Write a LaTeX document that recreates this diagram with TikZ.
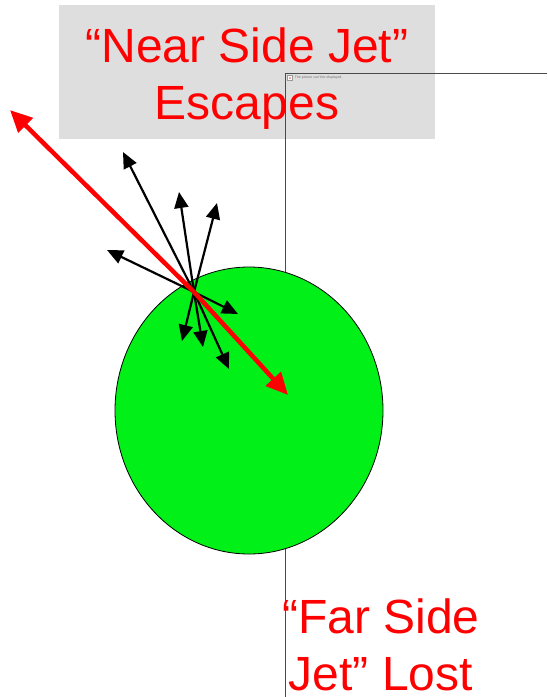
\documentclass[tikz,border=0pt]{standalone}
\usepackage{fontspec}
\setmainfont{Liberation Sans}
\usetikzlibrary{
  arrows.meta,
  shapes.geometric,
  positioning
}
\definecolor{jetRed}{HTML}{FF0000}
\definecolor{jetGreen}{HTML}{00F018}
\definecolor{jetBox}{HTML}{DEDEDE}
\definecolor{jetFrame}{HTML}{4A4A4A}
\tikzset{
  bigtext/.style={font=\fontsize{48}{57}\selectfont, text=jetRed, inner sep=0pt},
  titlebox/.style={fill=jetBox, minimum width=376pt, minimum height=134pt, inner sep=0pt},
  medium/.style={
    ellipse, draw=black, line width=0.8pt, fill=jetGreen,
    minimum width=268pt, minimum height=287pt, inner sep=0pt
  },
  jet/.style={line width=4.5pt, jetRed, arrows={-Stealth[inset=0pt, length=22pt, width=20pt]}},
  frag/.style={line width=2.2pt, black, arrows={-Stealth[inset=0pt, length=16pt, width=14pt]}},
  frameline/.style={line width=1pt, jetFrame},
  notice/.style={font=\fontsize{3.5}{4}\selectfont, text=black!55, inner sep=0pt, anchor=west}
}
\begin{document}
\begin{tikzpicture}[x=1pt, y=-1pt]
  \useasboundingbox (0,0) rectangle (547,697);
  % title
  \node[titlebox] (nearbox) at (247,72) {};
  \node[bigtext, align=center, anchor=base] (neartext) at (247,119)
    {“Near Side Jet”\\Escapes};
  % empty picture frame
  \coordinate (frTL) at (285,73);
  \coordinate (frTR) at (547,73);
  \coordinate (frBL) at (285,697);
  \draw[frameline] (frBL) -- (frTL) -- (frTR);
  \node[draw=black!40, fill=white, line width=0.4pt, minimum size=5pt, inner sep=0pt] (icon) at (290,78) {};
  \fill[jetRed!60] (icon.center) circle (1pt);
  \node[notice, right=2pt of icon] (msg) {The picture can't be displayed.};
  % medium
  \node[medium] (nucleus) at (249,410.5) {};
  \coordinate (vtx) at (194,292);
  % fragments
  \foreach \name/\xx/\yy in {f1/123/152, f2/179/192, f3/217/203, f4/107/250,
                             f5/238/314, f6/182/341, f7/203/347, f8/229/369} {
    \coordinate (\name) at (\xx,\yy);
    \draw[frag] (vtx) -- (\name);
  }
  % jets
  \coordinate (nearEnd) at (10,110);
  \coordinate (farEnd) at (288,395);
  \draw[jet] (vtx) -- (nearEnd);
  \draw[jet] (vtx) -- (farEnd);
  % lost jet
  \node[bigtext, align=center, anchor=base] (fartext) at (381,690)
    {“Far Side\\Jet” Lost};
\end{tikzpicture}
\end{document}
